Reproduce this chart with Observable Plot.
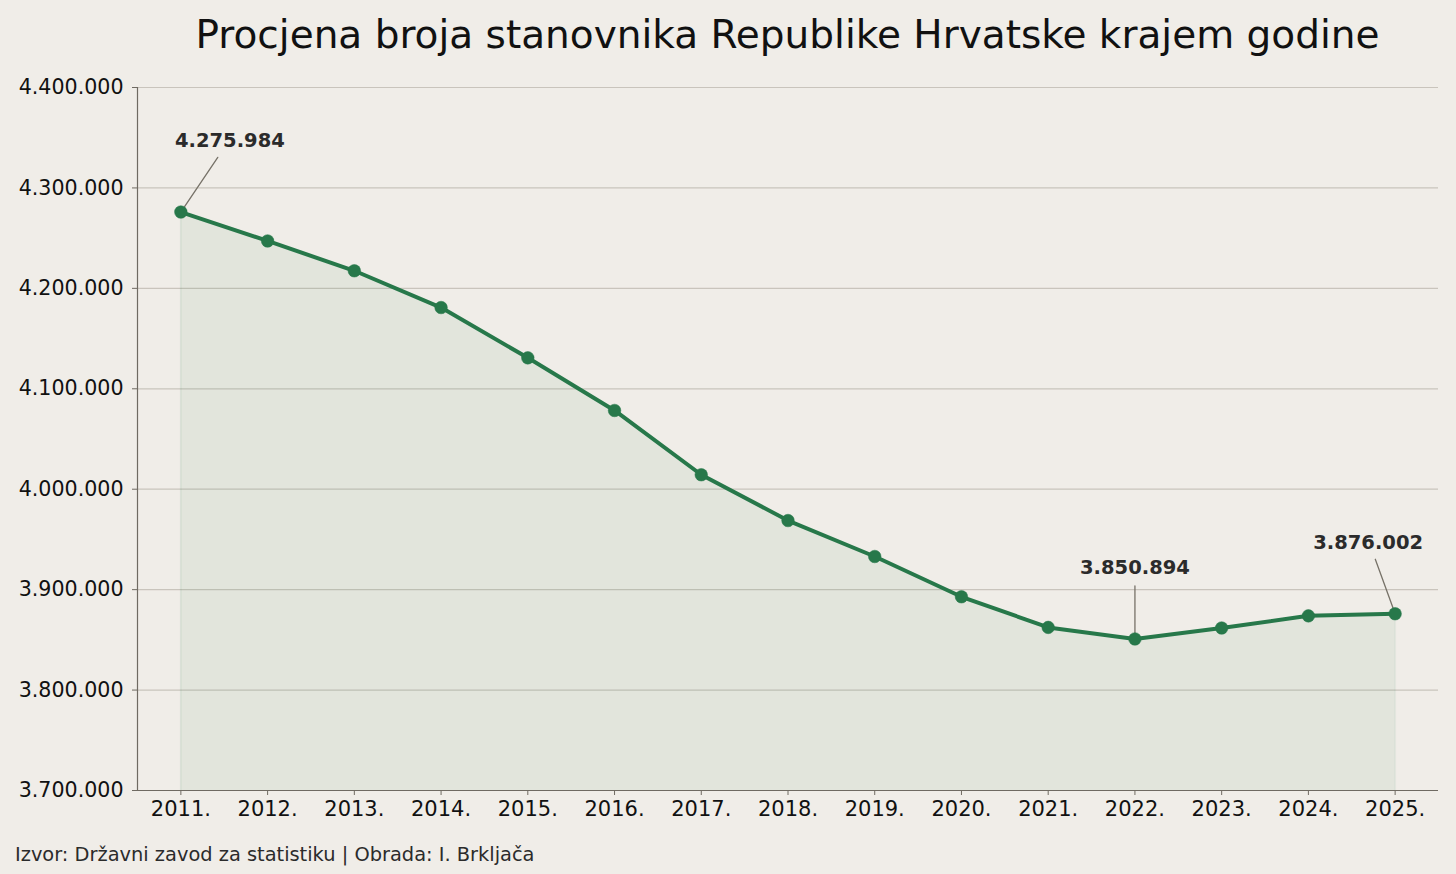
<!DOCTYPE html>
<html>
<head>
<meta charset="utf-8">
<script src="https://cdn.jsdelivr.net/npm/d3@7"></script>
<script src="https://cdn.jsdelivr.net/npm/@observablehq/plot@0.6"></script>
<style>
  html, body { margin: 0; padding: 0; background: #f0ede8; }
  body { width: 1456px; height: 874px; overflow: hidden; font-family: "DejaVu Sans", sans-serif; }
  #title { height: 60px; line-height: 70px; text-align: center; font-size: 39px; color: #111; padding-left: 119px; box-sizing: border-box; white-space: nowrap; }
  #footer { font-size: 19.4px; color: #2b2b2b; padding-left: 15px; line-height: 50px; white-space: nowrap; }
  svg { display: block; }
</style>
</head>
<body>
<div id="title">Procjena broja stanovnika Republike Hrvatske krajem godine</div>
<div id="chart"></div>
<div id="footer">Izvor: Državni zavod za statistiku | Obrada: I. Brkljača</div>
<script>
const years = [2011, 2012, 2013, 2014, 2015, 2016, 2017, 2018, 2019, 2020, 2021, 2022, 2023, 2024, 2025];
const population = [4275984, 4247200, 4217500, 4180900, 4130800, 4078400, 4014400, 3968800, 3933000, 3892900, 3862400, 3850894, 3861800, 3873900, 3876002];
const yTicks = [3700000, 3800000, 3900000, 4000000, 4100000, 4200000, 4300000, 4400000];
const annotatedYears = [2011, 2022, 2025];

const data = years.map((y, i) => ({year: y, value: population[i]}));
const fmt = d3.formatLocale({decimal: ",", thousands: ".", grouping: [3]}).format(",d");

const green = "#27784a";
const leader = {draw(ctx, l) { ctx.moveTo(0, 0); ctx.lineTo(0, -l); }};
const ann = (yr) => data.filter(d => d.year === yr);

const chart = Plot.plot({
  width: 1456,
  height: 770,
  marginTop: 27,
  marginBottom: 40,
  marginLeft: 137,
  marginRight: 18,
  style: {background: "transparent", fontFamily: "DejaVu Sans, sans-serif", fontSize: "20.5px", color: "#111"},
  x: {domain: [2010.5, 2025.5], label: null},
  y: {domain: [3700000, 4400000], label: null},
  marks: [
    Plot.gridY(yTicks, {stroke: "#c9c4bc", strokeOpacity: 1, strokeWidth: 1.2}),
    Plot.areaY(data, {x: "year", y1: 3700000, y2: "value", fill: "#2a7a4b", fillOpacity: 0.07}),
    Plot.ruleX(ann(2011).concat(ann(2025)), {x: "year", y1: 3700000, y2: "value", stroke: "#2a7a4b", strokeOpacity: 0.06, strokeWidth: 2}),
    Plot.vector(ann(2011), {x: "year", y: "value", length: 66, rotate: 34, shape: leader, anchor: "start", stroke: "#777268", strokeWidth: 1.3}),
    Plot.vector(ann(2022), {x: "year", y: "value", length: 53, rotate: 0, shape: leader, anchor: "start", stroke: "#777268", strokeWidth: 1.3}),
    Plot.vector(ann(2025), {x: "year", y: "value", length: 58, rotate: -20, shape: leader, anchor: "start", stroke: "#777268", strokeWidth: 1.3}),
    Plot.line(data, {x: "year", y: "value", stroke: green, strokeWidth: 4}),
    Plot.dot(data, {x: "year", y: "value", r: 6.3, fill: green, stroke: green, strokeWidth: 0.5}),
    Plot.text(ann(2011), {x: "year", y: "value", text: d => fmt(d.value), dx: 49, dy: -71, fontWeight: "bold", fontSize: 19.5, fill: "#2b2b2b"}),
    Plot.text(ann(2022), {x: "year", y: "value", text: d => fmt(d.value), dx: 0, dy: -71, fontWeight: "bold", fontSize: 19.5, fill: "#2b2b2b"}),
    Plot.text(ann(2025), {x: "year", y: "value", text: d => fmt(d.value), dx: -27, dy: -71, fontWeight: "bold", fontSize: 19.5, fill: "#2b2b2b"}),
    Plot.axisX({ticks: years, tickFormat: d => d + ".", label: null, tickSize: 5, tickPadding: 6, stroke: "#6f6a62", fill: "#111", fontSize: 21}),
    Plot.axisY({ticks: yTicks, tickFormat: fmt, label: null, tickSize: 5, tickPadding: 9, stroke: "#6f6a62", fill: "#111", fontSize: 20.6}),
    Plot.ruleY([3700000], {stroke: "#6f6a62", strokeWidth: 1.2}),
    Plot.ruleX([2010.5], {stroke: "#6f6a62", strokeWidth: 1.2})
  ]
});
document.getElementById("chart").appendChild(chart);
</script>
</body>
</html>
